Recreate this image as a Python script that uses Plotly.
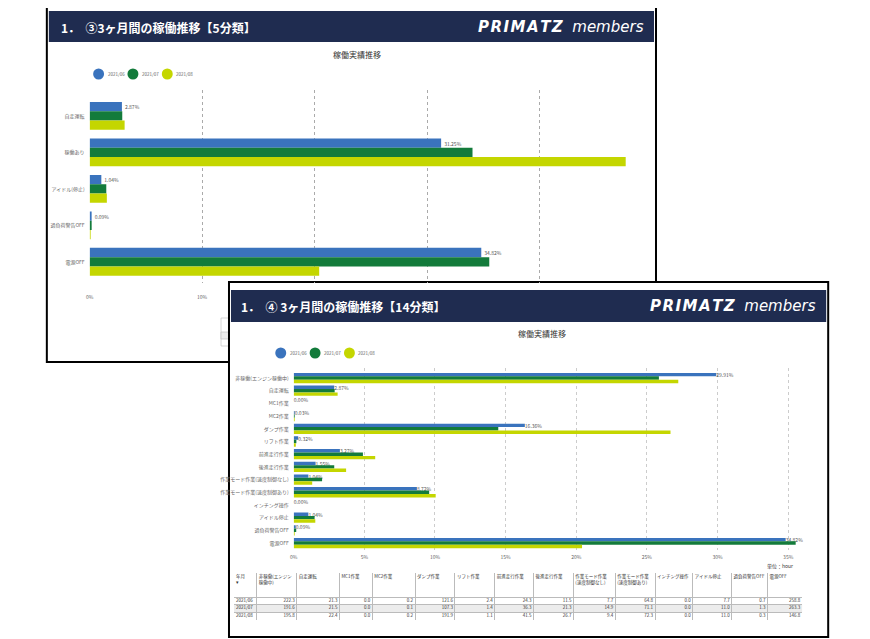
import itertools
import plotly.graph_objects as go

# page body keeps an 8px margin, so the figure is drawn 8px smaller and shifted
OFF = 8
W, H = 870 - OFF, 639 - OFF
FONT = "Noto Sans CJK JP"


def px(x):
    return (x - OFF) / W


def py(y):
    return 1 - (y - OFF) / H


months = ["2021/06", "2021/07", "2021/08"]
month_colors = ["#3a73bd", "#137b3b", "#c4d600"]

# 5分類 (%)
cats5 = ["自走運転", "稼働あり", "アイドル(停止)", "過負荷警告OFF", "電源OFF"]
share5_jun = [2.87, 31.25, 1.04, 0.09, 34.82]
share5_jul = [2.90, 34.04, 1.48, 0.18, 35.53]
share5_aug = [3.11, 47.66, 1.53, 0.04, 20.41]

# 14分類 (%)
cats14 = [
    "非稼働(エンジン稼働中)", "自走運転", "MC1作業", "MC2作業", "ダンプ作業",
    "リフト作業", "前進走行作業", "後進走行作業", "作業モード作業(速度制御なし)",
    "作業モード作業(速度制御あり)", "インチング操作", "アイドル停止",
    "過負荷警告OFF", "電源OFF",
]
share14_jun = [29.91, 2.87, 0.00, 0.03, 16.36, 0.32, 3.27, 1.55, 1.04, 8.72, 0.00, 1.04, 0.09, 34.82]
share14_jul = [25.85, 2.90, 0.00, 0.01, 14.48, 0.19, 4.90, 2.87, 2.01, 9.59, 0.00, 1.48, 0.18, 35.53]
share14_aug = [27.22, 3.11, 0.00, 0.03, 26.67, 0.15, 5.77, 3.71, 1.31, 10.05, 0.00, 1.53, 0.04, 20.41]

# 稼働時間テーブル (hour)
table_header = [
    "年月<br>▾", "非稼働(エンジン<br>稼働中)", "自走運転", "MC1作業", "MC2作業", "ダンプ作業",
    "リフト作業", "前進走行作業", "後進走行作業", "作業モード作業<br>(速度制御なし)",
    "作業モード作業<br>(速度制御あり)", "インチング操作", "アイドル停止", "過負荷警告OFF", "電源OFF",
]
hours_jun = [222.3, 21.3, 0.0, 0.2, 121.6, 2.4, 24.3, 11.5, 7.7, 64.8, 0.0, 7.7, 0.7, 258.8]
hours_jul = [191.6, 21.5, 0.0, 0.1, 107.3, 1.4, 36.3, 21.3, 14.9, 71.1, 0.0, 11.0, 1.3, 263.3]
hours_aug = [195.8, 22.4, 0.0, 0.2, 191.9, 1.1, 41.5, 26.7, 9.4, 72.3, 0.0, 11.0, 0.3, 146.8]

fig = go.Figure()

# ---- chart 1 (5分類) ----
for i, vals in enumerate([share5_jun, share5_jul, share5_aug]):
    fig.add_trace(go.Bar(
        y=cats5, x=vals, orientation="h", xaxis="x", yaxis="y",
        marker=dict(color=month_colors[i], line=dict(width=0)),
        width=0.255, offset=-0.383 + i * 0.255,
        texttemplate="%{x:.2f}%" if i == 0 else None,
        textposition="outside" if i == 0 else "none", constraintext="none", cliponaxis=False,
        textfont=dict(size=5, color="#555555", family=FONT),
        showlegend=False, name=months[i],
    ))

# ---- chart 2 (14分類) ----
for i, vals in enumerate([share14_jun, share14_jul, share14_aug]):
    fig.add_trace(go.Bar(
        y=cats14, x=vals, orientation="h", xaxis="x2", yaxis="y2",
        marker=dict(color=month_colors[i], line=dict(width=0)),
        width=0.27, offset=-0.405 + i * 0.27,
        texttemplate="%{x:.2f}%" if i == 0 else None,
        textposition="outside" if i == 0 else "none", constraintext="none", cliponaxis=False,
        textfont=dict(size=5, color="#555555", family=FONT),
        showlegend=False, name=months[i],
    ))

# ---- table (drawn on its own axes, one unit = one pixel) ----
col_w = [23, 40, 43, 33, 43, 40, 40, 39, 40, 42, 40, 38, 39, 36, 35]
head_h, row_h = 24, 7.5
col_edges = [0] + list(itertools.accumulate(col_w))
row_edges = [0, head_h] + [head_h + row_h * (k + 1) for k in range(len(months))]
tbl_w, tbl_h = col_edges[-1], row_edges[-1]
tbl_font = dict(size=4.5, color="#333333", family=FONT)

fig.add_trace(go.Scatter(
    x=[e + 2 for e in col_edges[:-1]], y=[2] * len(table_header),
    text=table_header, mode="text", textposition="bottom right",
    textfont=tbl_font, xaxis="x3", yaxis="y3", hoverinfo="skip", showlegend=False,
))
row_mid = [(a + b) / 2 for a, b in zip(row_edges[1:-1], row_edges[2:])]
fig.add_trace(go.Scatter(
    x=[2] * len(months), y=row_mid, text=months, mode="text",
    textposition="middle right", textfont=tbl_font,
    xaxis="x3", yaxis="y3", hoverinfo="skip", showlegend=False,
))
for r, row in enumerate([hours_jun, hours_jul, hours_aug]):
    fig.add_trace(go.Scatter(
        x=[e - 2 for e in col_edges[2:]], y=[row_mid[r]] * len(row),
        text=[f"{v:.1f}" for v in row], mode="text", textposition="middle left",
        textfont=tbl_font, xaxis="x3", yaxis="y3", hoverinfo="skip", showlegend=False,
    ))

# ---- slide frames / headers ----
shapes = [
    # slide 1
    dict(type="rect", x0=px(43), x1=px(655), y0=py(362), y1=py(4),
         fillcolor="white", line=dict(color="black", width=2)),
    dict(type="rect", x0=px(45), x1=px(653), y0=py(42), y1=py(11),
         fillcolor="#1f2c50", line=dict(width=0)),
    # table fragment of slide 1 peeking out
    dict(type="rect", x0=px(218), x1=px(232), y0=py(346), y1=py(318),
         fillcolor="white", line=dict(color="#bbbbbb", width=0.6)),
    dict(type="rect", x0=px(218), x1=px(232), y0=py(339), y1=py(332),
         fillcolor="#ececec", line=dict(color="#bbbbbb", width=0.6)),
    # slide 2
    dict(type="rect", x0=px(226), x1=px(828), y0=py(637), y1=py(282),
         fillcolor="white", line=dict(color="black", width=2)),
    dict(type="rect", x0=px(228), x1=px(826), y0=py(322), y1=py(290),
         fillcolor="#1f2c50", line=dict(width=0)),
]

annotations = [
    dict(x=px(55), y=py(27), text="<b>1．  ③3ヶ月間の稼働推移【5分類】</b>", xanchor="left",
         font=dict(size=12, color="white", family=FONT)),
    dict(x=px(236), y=py(306), text="<b>1．  ④ 3ヶ月間の稼働推移【14分類】</b>", xanchor="left",
         font=dict(size=12, color="white", family=FONT)),
    dict(x=px(355), y=py(55), text="稼働実績推移",
         font=dict(size=8, color="#333333", family=FONT)),
    dict(x=px(540), y=py(333), text="稼働実績推移",
         font=dict(size=8, color="#333333", family=FONT)),
    dict(x=px(795), y=py(566), text="単位：hour", xanchor="right",
         font=dict(size=5, color="#333333", family=FONT)),
]

logo = "<b><i>P\u200aR\u200aI\u200aM\u200aA\u200aT\u200aZ</i></b>  <i>members</i>"
for right, cy in [(645, 27), (818, 306)]:
    annotations.append(dict(x=px(right), y=py(cy), text=logo, xanchor="right",
                            font=dict(size=15, color="white", family="DejaVu Sans")))

# small dot legends above each chart
for start, cy in [(95, 74), (278, 353)]:
    for i, (m, c) in enumerate(zip(months, month_colors)):
        cx = start + i * 34.5
        shapes.append(dict(type="circle", x0=px(cx - 5.5), x1=px(cx + 5.5),
                           y0=py(cy + 5.5), y1=py(cy - 5.5),
                           fillcolor=c, line=dict(width=0)))
        annotations.append(dict(x=px(cx + 7), y=py(cy), text=m, xanchor="left",
                                font=dict(size=4.5, color="#666666", family=FONT)))

for s in shapes:
    s.update(xref="paper", yref="paper", layer="below")
for a in annotations:
    a.update(xref="paper", yref="paper", showarrow=False, yanchor="middle")

# shaded second data row of the table
shapes.append(dict(type="rect", xref="x3", yref="y3", layer="below",
                   x0=0, x1=tbl_w, y0=row_edges[2], y1=row_edges[3],
                   fillcolor="#ececec", line=dict(width=0)))

axis_font = dict(size=5, color="#666666", family=FONT)

fig.update_layout(
    width=W, height=H, autosize=False,
    margin=dict(l=0, r=0, t=0, b=0),
    paper_bgcolor="white", plot_bgcolor="rgba(0,0,0,0)",
    font=dict(family=FONT), showlegend=False,
    shapes=shapes, annotations=annotations,
    xaxis=dict(domain=[px(86), px(651)], range=[0, 50], anchor="y",
               tickvals=[0, 10, 20, 30, 40, 50], ticktext=["0%", "10%", "", "", "", ""],
               showgrid=True, gridcolor="#aaaaaa", griddash="dot", gridwidth=1,
               zeroline=False, showline=False, ticks="", tickfont=axis_font,
               ticklabelstandoff=10, fixedrange=True),
    yaxis=dict(domain=[py(283), py(90)], range=[4.58, -0.71], anchor="x",
               type="category", categoryarray=cats5, showgrid=False, ticks="",
               tickfont=axis_font, ticklabelstandoff=4, fixedrange=True),
    xaxis2=dict(domain=[px(291), px(802)], range=[0, 36], anchor="y2",
                tickvals=[0, 5, 10, 15, 20, 25, 30, 35],
                ticktext=["0%", "5%", "10%", "15%", "20%", "25%", "30%", "35%"],
                showgrid=True, gridcolor="#cccccc", griddash="dot", gridwidth=1,
                zeroline=False, showline=False, ticks="", tickfont=axis_font,
                ticklabelstandoff=3, fixedrange=True),
    yaxis2=dict(domain=[py(550), py(368)], range=[13.55, -0.79], anchor="x2",
                type="category", categoryarray=cats14, showgrid=False, ticks="",
                tickfont=axis_font, ticklabelstandoff=4, fixedrange=True),
    xaxis3=dict(domain=[px(231), px(231 + tbl_w)], range=[0, tbl_w], anchor="y3",
                tickvals=col_edges, showticklabels=False, ticks="",
                showgrid=True, gridcolor="#bbbbbb", gridwidth=0.6,
                zeroline=False, showline=False, fixedrange=True),
    yaxis3=dict(domain=[py(573 + tbl_h), py(573)], range=[tbl_h, 0], anchor="x3",
                tickvals=row_edges, showticklabels=False, ticks="",
                showgrid=True, gridcolor="#bbbbbb", gridwidth=0.6,
                zeroline=False, showline=False, fixedrange=True),
)

fig.write_html("out.html")
